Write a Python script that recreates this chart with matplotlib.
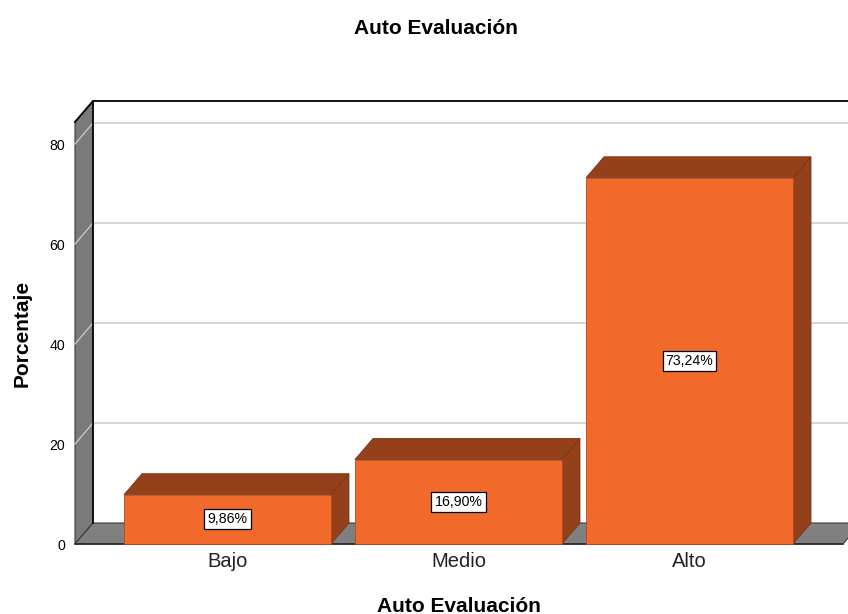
import matplotlib
matplotlib.use("Agg")
import matplotlib.pyplot as plt
from matplotlib.patches import Polygon, Rectangle

plt.rcParams['font.family'] = ['Liberation Sans', 'DejaVu Sans']

# Data
categories = ["Bajo", "Medio", "Alto"]
percentages = [9.86, 16.90, 73.24]
y_ticks = [0, 20, 40, 60, 80]

title = "Auto Evaluación"
x_label = "Auto Evaluación"
y_label = "Porcentaje"

# Colours
front_col = "#F26A2B"
dark_col = "#94401A"
wall_col = "#7A7A7A"
floor_col = "#808080"
grid_col = "#CDCDCD"

W, H, DPI = 848, 614, 100
fig = plt.figure(figsize=(W / DPI, H / DPI), dpi=DPI)
fig.patch.set_facecolor("white")

ax = fig.add_axes([75 / W, 70 / H, (843 - 75) / W, 422 / H])
xmin, xmax = -0.66, 2.6645
ymax = 84.4
ax.set_xlim(xmin, xmax)
ax.set_ylim(0, ymax)
ax.patch.set_visible(False)
for s in ax.spines.values():
    s.set_visible(False)

# depth offset of the pseudo-3D frame, expressed in data units
p0 = ax.transData.transform((0, 0))
ddx, ddy = ax.transData.inverted().transform(p0 + [18, 21])

# back wall
back = Rectangle((xmin + ddx, ddy), (xmax - xmin) + 1.0, ymax, facecolor="white",
                 edgecolor="none", clip_on=False, zorder=0)
ax.add_patch(back)
for v in y_ticks[1:]:
    ax.plot([xmin + ddx, xmax + ddx + 1.0], [v + ddy, v + ddy], color=grid_col,
            lw=1.2, clip_on=False, zorder=1)

# left wall
left = Polygon([(xmin, 0), (xmin + ddx, ddy), (xmin + ddx, ymax + ddy), (xmin, ymax)],
               closed=True, facecolor=wall_col, edgecolor="#3A3A3A", lw=0.8,
               clip_on=False, zorder=2)
ax.add_patch(left)
for v in y_ticks[1:]:
    ax.plot([xmin, xmin + ddx], [v, v + ddy], color=grid_col, lw=0.9,
            clip_on=False, zorder=3)

# frame outline
ax.plot([xmin, xmin + ddx, xmax + ddx + 1.0], [ymax, ymax + ddy, ymax + ddy],
        color="black", lw=1.3, clip_on=False, zorder=3)
ax.plot([xmin + ddx, xmin + ddx], [ddy, ymax + ddy], color="black", lw=1.2,
        clip_on=False, zorder=3)

# floor
floor = Polygon([(xmin, 0), (xmax, 0), (xmax + ddx, ddy), (xmin + ddx, ddy)],
                closed=True, facecolor=floor_col, edgecolor="#3A3A3A", lw=0.8,
                clip_on=False, zorder=2)
ax.add_patch(floor)
ax.plot([xmin, xmax], [0, 0], color="#2A2A2A", lw=1.2, clip_on=False, zorder=3)

# bars
bw = 207 / 231
for i, v in enumerate(percentages):
    x0, x1 = i - bw / 2, i + bw / 2
    side = Polygon([(x1, 0), (x1 + ddx, ddy), (x1 + ddx, v + ddy), (x1, v)], closed=True,
                   facecolor=dark_col, edgecolor="#7A3414", lw=0.6, zorder=4, clip_on=False)
    top = Polygon([(x0, v), (x1, v), (x1 + ddx, v + ddy), (x0 + ddx, v + ddy)], closed=True,
                  facecolor=dark_col, edgecolor="#7A3414", lw=0.6, zorder=4, clip_on=False)
    front = Rectangle((x0, 0), bw, v, facecolor=front_col, edgecolor="#B04A1E", lw=0.6,
                      zorder=5, clip_on=False)
    ax.add_patch(side)
    ax.add_patch(top)
    ax.add_patch(front)
    label = f"{v:.2f}".replace(".", ",") + "%"
    ax.text(i, v / 2, label, ha="center", va="center", fontsize=10.2, color="black",
            zorder=6,
            bbox=dict(boxstyle="square,pad=0.22", facecolor="white", edgecolor="black", lw=0.9))

# axes ticks
ax.set_yticks(y_ticks)
ax.set_yticklabels([str(t) for t in y_ticks], fontsize=10.2)
ax.set_xticks(range(len(categories)))
ax.set_xticklabels(categories, fontsize=14.5, color="#222222")
ax.tick_params(axis="y", length=0, pad=7)
ax.tick_params(axis="x", length=0, pad=6)

# titles
fig.text(436 / W, 1 - 28 / H, title, ha="center", va="center", fontsize=15, fontweight="bold")
fig.text(459 / W, 1 - 606 / H, x_label, ha="center", va="center", fontsize=15, fontweight="bold")
fig.text(22 / W, 1 - 333 / H, y_label, ha="center", va="center", rotation=90,
         fontsize=15, fontweight="bold")

fig.savefig("out.png", dpi=DPI)
